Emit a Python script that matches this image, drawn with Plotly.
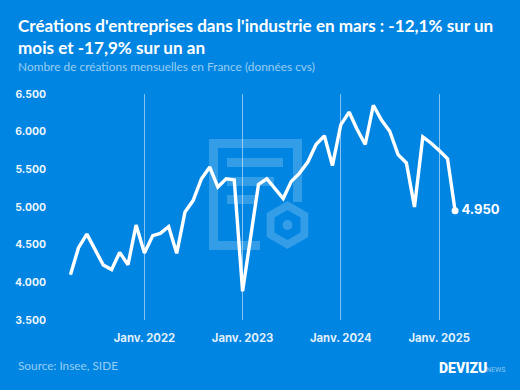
import math
import plotly.graph_objects as go

months = [
 "2021-04-01","2021-05-01","2021-06-01","2021-07-01","2021-08-01","2021-09-01","2021-10-01","2021-11-01","2021-12-01",
 "2022-01-01","2022-02-01","2022-03-01","2022-04-01","2022-05-01","2022-06-01","2022-07-01","2022-08-01","2022-09-01","2022-10-01","2022-11-01","2022-12-01",
 "2023-01-01","2023-02-01","2023-03-01","2023-04-01","2023-05-01","2023-06-01","2023-07-01","2023-08-01","2023-09-01","2023-10-01","2023-11-01","2023-12-01",
 "2024-01-01","2024-02-01","2024-03-01","2024-04-01","2024-05-01","2024-06-01","2024-07-01","2024-08-01","2024-09-01","2024-10-01","2024-11-01","2024-12-01",
 "2025-01-01","2025-02-01","2025-03-01"]
values = [
 4100,4460,4640,4437,4230,4170,4397,4234,4760,
 4390,4620,4650,4740,4385,4935,5085,5375,5530,5265,5375,5360,
 3880,4590,5300,5375,5240,5112,5340,5450,5600,5830,5945,5550,
 6090,6260,6035,5830,6350,6150,6005,5695,5585,5000,5930,5850,
 5750,5640,4950]
x_tick_vals = ["2022-01-01","2023-01-01","2024-01-01","2025-01-01"]
x_tick_text = ["Janv. 2022","Janv. 2023","Janv. 2024","Janv. 2025"]
y_tick_vals = [3500,4000,4500,5000,5500,6000,6500]
y_tick_text = ["3.500","4.000","4.500","5.000","5.500","6.000","6.500"]
last_label = "4.950"
title_text = "Créations d'entreprises dans l'industrie en mars : -12,1% sur un<br>mois et -17,9% sur un an"
subtitle_text = "Nombre de créations mensuelles en France (données cvs)"
source_text = "Source: Insee, SIDE"

W, H = 520, 390
L, R, T, B = 57, 20, 94, 70
FONT = "Lato"
BG = "#0085E2"
wm = "rgba(255,255,255,0.2)"

def px(x): return (x - L) / (W - L - R)
def py(y): return 1 - (y - T) / (H - T - B)

fig = go.Figure()
fig.add_trace(go.Scatter(x=months, y=values, mode="lines",
    line=dict(color="white", width=3.4), hoverinfo="skip"))
fig.add_trace(go.Scatter(x=months[-1:], y=values[-1:], mode="markers+text",
    marker=dict(color="white", size=7), text=["&#8202;" + last_label], textposition="middle right",
    textfont=dict(family="Inter", size=13, color="white", weight=700), hoverinfo="skip"))

def rect(x0, y0, x1, y1):
    return dict(type="rect", xref="paper", yref="paper", x0=px(x0), x1=px(x1), y0=py(y0), y1=py(y1),
                fillcolor=wm, line_width=0, layer="below")

def hexpath(cx, cy, r):
    pts = [(px(cx + r*math.sin(i*math.pi/3)), py(cy - r*math.cos(i*math.pi/3))) for i in range(6)]
    return "M " + " L ".join(f"{a:.4f},{b:.4f}" for a, b in pts) + " Z"

shapes = [
    rect(209,139,302,148), rect(209,148,218,250), rect(218,241,260,250),
    rect(293,148,302,202), rect(227,158,283,167), rect(227,177,274,186), rect(227,195,255,204),
    dict(type="path", xref="paper", yref="paper", layer="below", fillcolor=wm, line_width=0,
         path=hexpath(287.5,225,24) + " " + hexpath(287.5,225,15)),
    dict(type="circle", xref="paper", yref="paper", layer="below", fillcolor=wm, line_width=0,
         x0=px(282.5), x1=px(292.5), y0=py(230), y1=py(220)),
]

def note(x, y, text, size, color="white", weight=400, family=FONT, anchor="left"):
    return dict(xref="paper", yref="paper", x=px(x), y=py(y), text=text, showarrow=False,
                xanchor=anchor, yanchor="middle", align="left",
                font=dict(family=family, size=size, color=color, weight=weight))

annotations = [
    note(16, 37, title_text, 17.1, weight=700),
    note(16, 67, subtitle_text, 11.9, color="rgba(255,255,255,0.6)"),
    note(16, 365, source_text, 11.8, color="rgba(255,255,255,0.6)"),
    note(437, 368, "DEVIZU", 14, weight=900, family="Roboto"),
    note(484, 370, "NEWS", 7, color="rgba(255,255,255,0.55)", family="Roboto"),
]

fig.update_layout(
    width=W, height=H, margin=dict(l=L, r=R, t=T, b=B),
    paper_bgcolor=BG, plot_bgcolor="rgba(0,0,0,0)", showlegend=False,
    shapes=shapes, annotations=annotations,
    xaxis=dict(type="date", range=["2021-02-10","2025-08-15"], tickmode="array",
               tickvals=x_tick_vals, ticktext=x_tick_text, showgrid=True,
               gridcolor="rgba(255,255,255,0.5)", gridwidth=1, zeroline=False, showline=False,
               ticks="outside", ticklen=7, tickcolor="rgba(0,0,0,0)",
               tickfont=dict(family="Inter", size=11.3, color="rgba(255,255,255,0.9)", weight=700)),
    yaxis=dict(range=[3500,6500], tickmode="array", tickvals=y_tick_vals, ticktext=y_tick_text,
               showgrid=False, zeroline=False, showline=False,
               ticks="outside", ticklen=8, tickcolor="rgba(0,0,0,0)",
               tickfont=dict(family="Inter", size=10.4, color="rgba(255,255,255,0.95)", weight=700)),
)
fig.write_html("out.html", config=dict(displayModeBar=False),
               post_script="document.body.style.margin='0';document.body.style.background='#0085E2';")
